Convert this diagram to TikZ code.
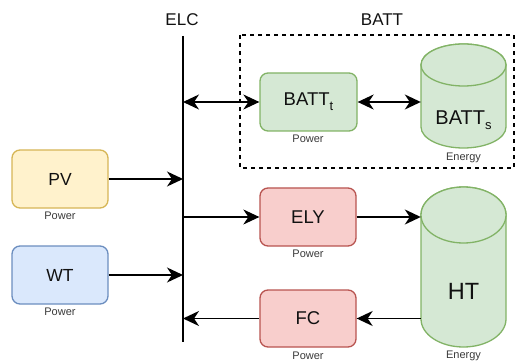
\documentclass[tikz,border=0pt]{standalone}
\usepackage{fontspec}
\setmainfont{Liberation Sans}
\usetikzlibrary{arrows.meta}
\definecolor{yfill}{HTML}{FFF2CC}\definecolor{ydraw}{HTML}{D6B656}
\definecolor{bfill}{HTML}{DAE8FC}\definecolor{bdraw}{HTML}{6C8EBF}
\definecolor{gfill}{HTML}{D5E8D4}\definecolor{gdraw}{HTML}{82B366}
\definecolor{rfill}{HTML}{F8CECC}\definecolor{rdraw}{HTML}{B85450}
\definecolor{txt}{HTML}{111111}\definecolor{sub}{HTML}{3A3A3A}
\newcommand{\lowsub}[1]{\raisebox{-5pt}{\fontsize{13}{13}\selectfont #1}}
\tikzset{
  blk/.style={rounded corners=8pt, line width=1.3pt, minimum width=96pt, minimum height=58pt, inner sep=0pt, text=txt, font=\fontsize{18.5}{22}\selectfont},
  cylbox/.style={draw=none, minimum width=85pt, inner sep=0pt},
  cyl/.style={line width=1.3pt, draw=gdraw, fill=gfill},
  captxt/.style={text=sub, font=\fontsize{11}{12}\selectfont, inner sep=0pt},
  arr/.style={line width=1.5pt, -{Stealth[length=16pt, width=15pt, inset=5pt]}},
  biarr/.style={line width=1.5pt, {Stealth[length=16pt, width=15pt, inset=5pt]}-{Stealth[length=16pt, width=15pt, inset=5pt]}},
  ttl/.style={text=txt, font=\fontsize{17}{20}\selectfont, inner sep=0pt}
}
\begin{document}
\begin{tikzpicture}[x=1pt,y=-1pt]
\useasboundingbox (0,0) rectangle (521,363);
% dashed battery group
\draw[line width=1.4pt, dash pattern=on 4pt off 4pt] (240,35) rectangle (514,168);
\node[ttl] (battlbl) at (382,20) {BATT};
% ELC bus
\coordinate (elctop) at (183,36);
\coordinate (elcbot) at (183,342);
\draw[line width=1.5pt] (elctop) -- (elcbot);
\node[ttl] (elclbl) at (182,20) {ELC};
% boxes
\node[blk, draw=ydraw, fill=yfill, font=\fontsize{17.5}{22}\selectfont] (pv) at (60,179) {PV};
\node[blk, draw=bdraw, fill=bfill, font=\fontsize{17.5}{22}\selectfont] (wt) at (60,275) {WT};
\node[blk, draw=gdraw, fill=gfill, minimum width=97pt] (battt) at (308.5,102) {BATT\lowsub{t}};
\node[blk, draw=rdraw, fill=rfill] (ely) at (308,217) {ELY};
\node[blk, draw=rdraw, fill=rfill, minimum height=57pt] (fc) at (308,318.5) {FC};
% captions
\node[captxt] (c1) at (60,216) {Power};
\node[captxt] (c2) at (60,312) {Power};
\node[captxt] (c3) at (308,139) {Power};
\node[captxt] (c4) at (308,254) {Power};
\node[captxt] (c5) at (308,356) {Power};
\node[captxt] (c6) at (463.5,158) {Energy};
\node[captxt] (c7) at (463.5,356) {Energy};
% cylinder BATT_s
\draw[cyl] (421,65) -- (421,127) arc[start angle=180, end angle=360, x radius=42.5pt, y radius=21pt]
  -- (506,65) arc[start angle=0, end angle=180, x radius=42.5pt, y radius=21pt] -- cycle;
\draw[cyl] (463.5,65) ellipse [x radius=42.5pt, y radius=21pt];
\node[cylbox, minimum height=104pt] (bs) at (463.5,96) {};
\node[text=txt, font=\fontsize{20}{24}\selectfont, inner sep=0pt] (bstxt) at (463.5,120) {BATT\lowsub{s}};
% cylinder HT
\draw[cyl] (421,215) -- (421,319) arc[start angle=180, end angle=360, x radius=42.5pt, y radius=28pt]
  -- (506,215) arc[start angle=0, end angle=180, x radius=42.5pt, y radius=28pt] -- cycle;
\draw[cyl] (463.5,215) ellipse [x radius=42.5pt, y radius=28pt];
\node[cylbox, minimum height=160pt] (ht) at (463.5,267) {};
\node[text=txt, font=\fontsize{23.5}{28}\selectfont, inner sep=0pt] (httxt) at (463.5,291) {HT};
% connectors
\draw[biarr] (battt.west -| elctop) -- (battt.west);
\draw[biarr] (battt.east) -- (battt.east -| bs.west);
\draw[arr] (pv.east) -- (pv.east -| elctop);
\draw[arr] (wt.east) -- (wt.east -| elctop);
\draw[arr] (ely.west -| elctop) -- (ely.west);
\draw[arr] (ely.east) -- (ely.east -| ht.west);
\draw[arr] (fc.east -| ht.west) -- (fc.east);
\draw[arr] (fc.west) -- (fc.west -| elctop);
\end{tikzpicture}
\end{document}
